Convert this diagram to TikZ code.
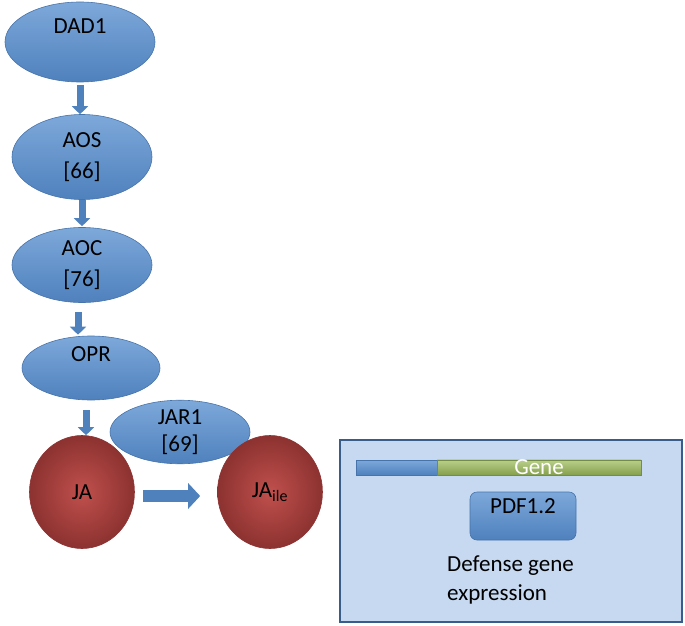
\documentclass[tikz,border=0pt]{standalone}
\usepackage{fontspec}
\setmainfont{Carlito}
\usetikzlibrary{shapes.geometric,arrows.meta,calc}
\definecolor{ofblue}{RGB}{79,129,189}
\definecolor{ofbluetop}{RGB}{125,168,218}
\definecolor{ofblueedge}{RGB}{70,115,170}
\definecolor{ofred}{RGB}{192,80,77}
\definecolor{ofreddark}{RGB}{140,50,48}
\definecolor{ofgreen}{RGB}{155,187,89}
\definecolor{boxfill}{RGB}{198,217,241}
\definecolor{boxedge}{RGB}{56,93,138}
\tikzset{
  enz/.style={ellipse, inner sep=0pt, top color=ofbluetop, bottom color=ofblue, draw=ofblueedge, line width=0.6pt, align=center, font=\fontsize{23}{31}\selectfont},
  mol/.style={ellipse, inner sep=0pt, inner color=ofred, outer color=ofreddark, draw=ofreddark, line width=0.6pt, minimum width=105pt, minimum height=113pt, font=\fontsize{23}{31}\selectfont},
  downarr/.style={line width=7pt, ofblue, -{Triangle[width=16pt,length=8pt]}},
  bigarr/.style={line width=12pt, ofblue, -{Triangle[width=25pt,length=12pt]}},
  txt/.style={font=\fontsize{23}{29}\selectfont, inner sep=0pt}
}
\begin{document}
\begin{tikzpicture}[x=1pt,y=-1pt]
\useasboundingbox (0,0) rectangle (685,626);
% enzymes
\node[enz, minimum width=150pt, minimum height=80pt] (dad) at (80,42) {DAD1\\[0pt]\mbox{}};
\node[enz, minimum width=140pt, minimum height=85pt] (aos) at (82,157) {AOS\\{[66]}};
\node[enz, minimum width=140pt, minimum height=75pt] (aoc) at (82,265) {AOC\\{[76]}};
\node[enz, minimum width=138pt, minimum height=64pt] (opr) at (91,368) {OPR\\[-4pt]\mbox{}};
\node[enz, minimum width=140pt, minimum height=56pt, font=\fontsize{23}{27}\selectfont] (jar) at (180,432) {JAR1\\{[69]}};
% molecules
\node[mol] (ja) at (82,492) {JA};
\node[mol] (jaile) at (270,492) {JA\textsubscript{\fontsize{16}{16}\selectfont ile}};
% down arrows
\draw[downarr, shorten <=3pt] (dad.south) -- (dad.south |- aos.north);
\draw[downarr, shorten >=1pt] (aos.south) -- (aoc.north);
\draw[downarr, shorten <=9pt, shorten >=1pt] ($(aoc.south)+(-4,0)$) -- ($(opr.north)+(-13,0)$);
\draw[downarr, shorten <=10pt, shorten >=0pt] ($(opr.south)+(-5,0)$) -- ($(ja.north)+(4,0)$);
% JA -> JAile
\draw[bigarr, shorten <=8pt, shorten >=17pt] ($(ja.east)+(0,4)$) -- ($(jaile.west)+(0,4)$);
% expression box
\node[draw=boxedge, line width=1.5pt, fill=boxfill, minimum width=342pt, minimum height=182pt, inner sep=0pt] (box) at (511,531) {};
\node[inner sep=0pt, minimum width=81pt, minimum height=15pt, top color=ofbluetop, bottom color=ofblue, draw=ofblueedge, line width=0.5pt] (prom) at (396.5,467.5) {};
\node[inner sep=0pt, minimum width=204pt, minimum height=15pt, top color=ofgreen!70!white, bottom color=ofgreen!85!black, draw=ofgreen!75!black, line width=0.5pt, text=white, font=\fontsize{23}{23}\selectfont] (gene) at (539,467.5) {\raisebox{-1pt}{Gene}};
\node[rounded corners=7pt, inner sep=0pt, minimum width=106pt, minimum height=48pt, top color=ofbluetop, bottom color=ofblue, draw=ofblueedge, line width=0.6pt] (pdf) at (523,516) {};
\node[txt, anchor=center] (pdflab) at (523,506) {PDF1.2};
\node[txt, anchor=north west, align=left] (def) at (447,556) {Defense gene\\expression};
\end{tikzpicture}
\end{document}
